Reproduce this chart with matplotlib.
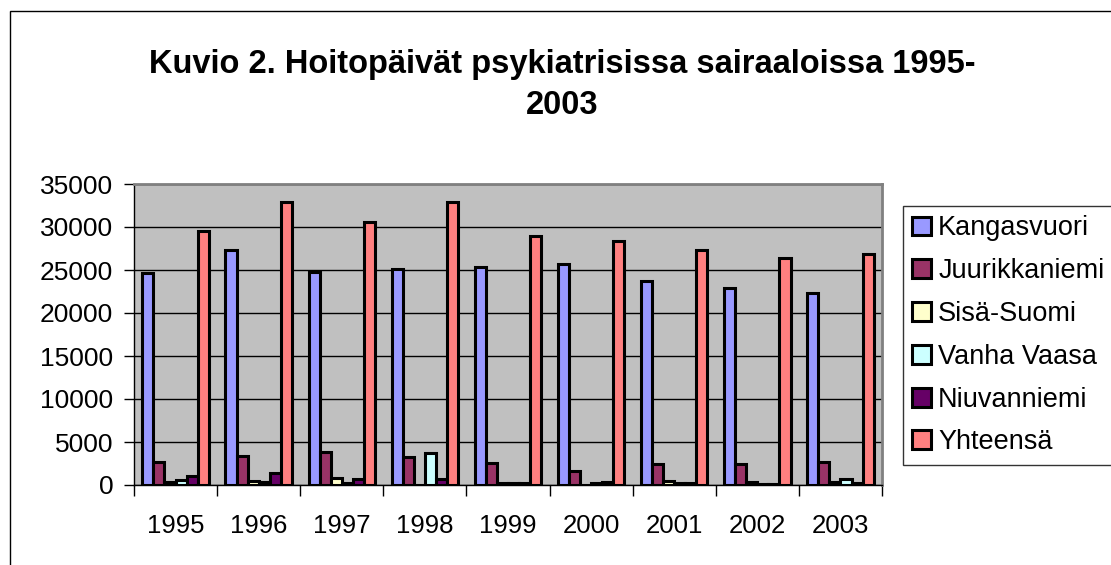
import matplotlib
matplotlib.use("Agg")
import matplotlib.pyplot as plt
from matplotlib.patches import Rectangle
import numpy as np

years = ["1995", "1996", "1997", "1998", "1999", "2000", "2001", "2002", "2003"]
series_names = ["Kangasvuori", "Juurikkaniemi", "Sisä-Suomi", "Vanha Vaasa", "Niuvanniemi", "Yhteensä"]
kangasvuori = [24700, 27300, 24800, 25100, 25350, 25700, 23700, 22900, 22300]
juurikkaniemi = [2650, 3330, 3800, 3300, 2600, 1650, 2450, 2450, 2700]
sisa_suomi = [300, 450, 850, 0, 200, 50, 450, 300, 350]
vanha_vaasa = [550, 300, 200, 3680, 250, 250, 250, 100, 700]
niuvanniemi = [1100, 1400, 700, 750, 250, 300, 200, 100, 200]
yhteensa = [29530, 32900, 30580, 32900, 28910, 28330, 27330, 26350, 26810]
colors = ["#9999FF", "#993366", "#FFFFCC", "#CCFFFF", "#660066", "#FF8080"]

data = [kangasvuori, juurikkaniemi, sisa_suomi, vanha_vaasa, niuvanniemi, yhteensa]

plt.rcParams['font.family'] = ['Liberation Sans', 'DejaVu Sans']

fig = plt.figure(figsize=(11.11, 5.65), dpi=100)
fig.patch.set_facecolor("white")
# figure border
fig.add_artist(Rectangle((10 / 1111, -0.05), 1.2, 1 - 11 / 565 + 0.05,
                         transform=fig.transFigure, fill=False,
                         edgecolor="black", linewidth=1.0))

ax = fig.add_axes([134 / 1111, 1 - 485 / 565, (882 - 134) / 1111, (485 - 184) / 565])
ax.set_facecolor("#C0C0C0")

n = len(series_names)
w = 1 / 7.5
x = np.arange(len(years))
for i, (name, vals, c) in enumerate(zip(series_names, data, colors)):
    offs = (i - (n - 1) / 2) * w
    ax.bar(x + offs, vals, width=w, color=c, edgecolor="black", linewidth=2.2,
           label=name, zorder=3)

ax.set_xlim(-0.5, len(years) - 0.5)
ax.set_ylim(0, 35000)
ax.set_yticks(np.arange(0, 35001, 5000))
ax.yaxis.grid(True, color="black", linewidth=1.0, zorder=1)
ax.set_axisbelow(True)
ax.tick_params(axis="y", labelsize=19, length=7, width=1, direction="out", pad=8)

ax.set_xticks(np.arange(-0.5, len(years), 1.0))
ax.set_xticklabels([])
ax.set_xticks(x, minor=True)
ax.set_xticklabels(years, minor=True)
ax.tick_params(axis="x", which="major", length=8, width=1, direction="out")
ax.tick_params(axis="x", which="minor", length=0, labelsize=18.5, pad=21)

for s in ["top", "right"]:
    ax.spines[s].set_color("#808080")
    ax.spines[s].set_linewidth(2)
ax.spines["left"].set_color("black")
ax.spines["bottom"].set_color("black")
ax.spines["left"].set_linewidth(1)
ax.spines["bottom"].set_linewidth(1)

fig.text(0.506, 1 - 64 / 565, "Kuvio 2. Hoitopäivät psykiatrisissa sairaaloissa 1995-",
         ha="center", va="center", fontsize=23.5, fontweight="bold")
fig.text(0.506, 1 - 105 / 565, "2003",
         ha="center", va="center", fontsize=23.5, fontweight="bold")

leg = fig.legend(loc="upper left", bbox_to_anchor=(903 / 1111, 1 - 206 / 565),
                 frameon=True, fancybox=False, edgecolor="black", fontsize=19.5,
                 handlelength=0.7, handleheight=0.7, handletextpad=0.25,
                 labelspacing=0.62, borderpad=0.35, borderaxespad=0)
leg.get_frame().set_linewidth(1)
for h in leg.legend_handles:
    h.set_linewidth(2.2)

fig.savefig("out.png", dpi=100, facecolor="white")
